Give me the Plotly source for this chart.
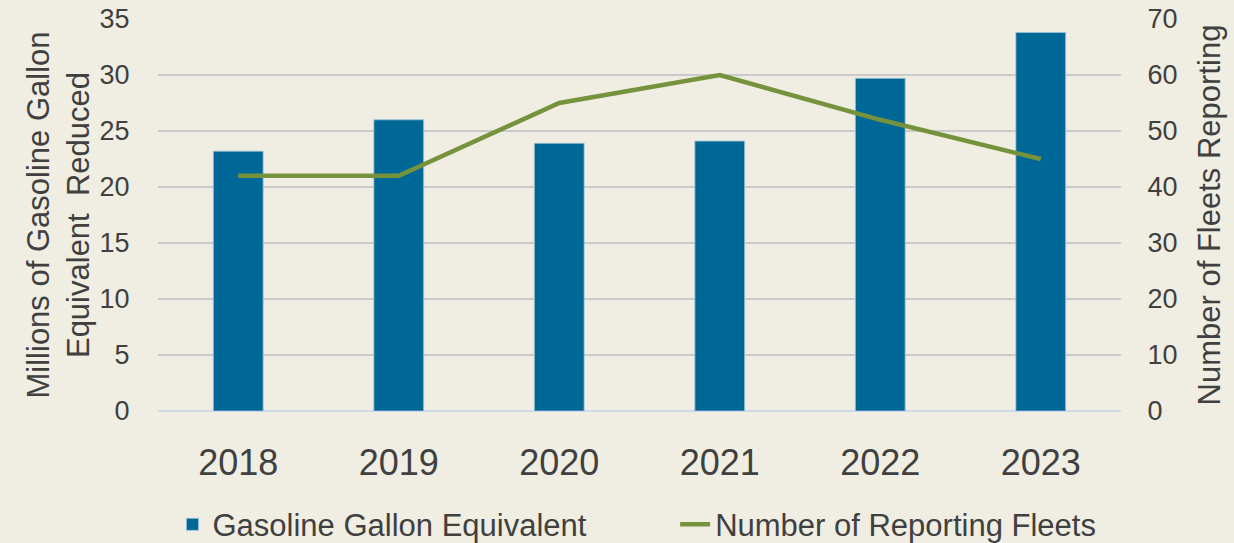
import plotly.graph_objects as go

years = ["2018", "2019", "2020", "2021", "2022", "2023"]
gge_millions = [23.2, 26.0, 23.9, 24.1, 29.7, 33.8]
fleets = [42, 42, 55, 60, 52, 45]

bg = "#F0EEE2"
txt = "#404040"
font = "Liberation Sans, Arial, sans-serif"

fig = go.Figure()
fig.add_trace(go.Bar(
    x=years, y=gge_millions, name="Gasoline Gallon Equivalent",
    marker=dict(color="#006896", line=dict(color="#9DC3D6", width=0.8)),
    width=0.31, yaxis="y", legend="legend",
))
fig.add_trace(go.Scatter(
    x=years, y=fleets, name="Number of Reporting Fleets",
    mode="lines", line=dict(color="#76923C", width=4.5), yaxis="y2",
    legend="legend2",
))

leg_common = dict(orientation="h", yanchor="middle", y=-0.29, xanchor="left",
                  font=dict(size=31, color=txt, family=font),
                  bgcolor="rgba(0,0,0,0)", borderwidth=0)

fig.update_layout(
    width=1234, height=543,
    paper_bgcolor=bg, plot_bgcolor=bg,
    margin=dict(l=158, r=113, t=19, b=132, autoexpand=False),
    font=dict(family=font, color=txt),
    showlegend=True,
    legend=dict(x=0.015, **leg_common),
    legend2=dict(x=0.537, **leg_common),
    xaxis=dict(
        type="category", showgrid=False, showline=False, zeroline=False,
        tickfont=dict(size=36, color=txt), ticks="outside", ticklen=20,
        tickcolor="rgba(0,0,0,0)", automargin=False,
    ),
    yaxis=dict(
        range=[0, 35], dtick=5, showgrid=True, gridcolor="#CACACA", gridwidth=1.5,
        zeroline=True, zerolinecolor="#D0D8EC", zerolinewidth=2,
        tickfont=dict(size=27, color=txt), ticks="outside", ticklen=22,
        tickcolor="rgba(0,0,0,0)", automargin=False,
        title=dict(text="Millions of Gasoline Gallon<br>Equivalent  Reduced",
                   font=dict(size=31, color=txt), standoff=0),
    ),
    yaxis2=dict(
        range=[0, 70], dtick=10, overlaying="y", side="right", showgrid=False,
        zeroline=False, tickfont=dict(size=27, color=txt),
        ticks="outside", ticklen=20, tickcolor="rgba(0,0,0,0)", automargin=False,
        title=dict(text="Number of Fleets Reporting",
                   font=dict(size=31, color=txt), standoff=21),
    ),
)
fig.write_html("out.html", config={"displayModeBar": False},
               post_script="document.body.style.margin='0';document.body.style.background='#F0EEE2';")
